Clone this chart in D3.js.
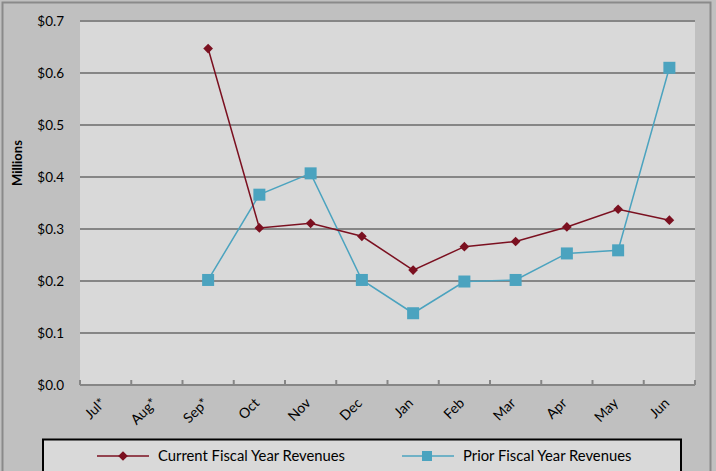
<!DOCTYPE html>
<html><head><meta charset="utf-8">
<script src="https://cdn.jsdelivr.net/npm/d3@7"></script>
<style>body{margin:0;background:#c0c0c0;}svg{display:block;}</style>
</head><body>
<script>
const months = ["Jul*","Aug*","Sep*","Oct","Nov","Dec","Jan","Feb","Mar","Apr","May","Jun"];
const currentFY = [null,null,0.647,0.302,0.311,0.286,0.221,0.266,0.276,0.304,0.338,0.317];
const priorFY = [null,null,0.202,0.366,0.407,0.202,0.138,0.199,0.202,0.253,0.259,0.610];
const yTicks = [0,0.1,0.2,0.3,0.4,0.5,0.6,0.7];
const seriesNames = ["Current Fiscal Year Revenues","Prior Fiscal Year Revenues"];

const W=716,H=471;
const font="Lato, 'Open Sans', sans-serif";
const svg=d3.select("body").append("svg").attr("width",W).attr("height",H);
svg.append("rect").attr("x",0).attr("y",0).attr("width",W).attr("height",H).attr("fill","#c0c0c0");
svg.append("rect").attr("x",2.5).attr("y",2.5).attr("width",708).attr("height",480)
  .attr("fill","none").attr("stroke","#8a8a8a").attr("stroke-width",2);

const L=80,R=695,T=21,B=385;
const x=d3.scaleBand().domain(months).range([L,R]);
const y=d3.scaleLinear().domain([0,0.7]).range([B,T]);

svg.append("rect").attr("x",L).attr("y",T).attr("width",R-L).attr("height",B-T).attr("fill","#d9d9d9");
// gridlines
svg.append("g").selectAll("line").data(yTicks.filter(d=>d>0)).join("line")
  .attr("x1",L).attr("x2",R).attr("y1",d=>y(d)).attr("y2",d=>y(d))
  .attr("stroke","#868686").attr("stroke-width",2);

// y axis labels
const yAxis=d3.axisLeft(y).tickValues(yTicks).tickFormat(d=>"$"+d.toFixed(1)).tickSize(0).tickPadding(16);
const gy=svg.append("g").attr("transform",`translate(${L},0)`).call(yAxis);
gy.select(".domain").remove();
gy.selectAll("text").attr("font-family",font).attr("font-size",13.5).attr("fill","#000");

// x axis
const xAxis=d3.axisBottom(x).tickSize(0);
const gx=svg.append("g").attr("transform",`translate(0,${B})`).call(xAxis);
gx.select(".domain").remove();
gx.selectAll(".tick line").remove();
gx.selectAll("text").attr("font-family",font).attr("font-size",14).attr("fill","#000")
  .attr("text-anchor","end").attr("dy",0).attr("y",0)
  .attr("transform","translate(1,19) rotate(-45)");
svg.append("line").attr("x1",L).attr("x2",R).attr("y1",B).attr("y2",B).attr("stroke","#868686").attr("stroke-width",2);
const edges=months.map((m,i)=>x(m)).concat([R]);
svg.append("g").selectAll("line").data(edges).join("line")
  .attr("x1",d=>d).attr("x2",d=>d).attr("y1",B-5).attr("y2",B)
  .attr("stroke","#868686").attr("stroke-width",2);

// y title
svg.append("text").attr("transform","translate(22,163) rotate(-90)")
  .attr("text-anchor","middle").attr("font-family",font).attr("font-weight","bold").attr("font-size",13).text("Millions");

const cx=m=>x(m)+x.bandwidth()/2;
const line=d3.line().defined(d=>d.v!=null).x(d=>cx(d.m)).y(d=>y(d.v));
const cur=months.map((m,i)=>({m,v:currentFY[i]}));
const pri=months.map((m,i)=>({m,v:priorFY[i]}));
const cCol="#7b1020", pCol="#4ba3bf";

svg.append("path").datum(pri).attr("d",line).attr("fill","none").attr("stroke",pCol).attr("stroke-width",1.5);
svg.append("g").selectAll("rect").data(pri.filter(d=>d.v!=null)).join("rect")
  .attr("x",d=>cx(d.m)-6).attr("y",d=>y(d.v)-6).attr("width",12).attr("height",12).attr("fill",pCol);
svg.append("path").datum(cur).attr("d",line).attr("fill","none").attr("stroke",cCol).attr("stroke-width",1.5);
const diamond=d3.symbol().type(d3.symbolDiamond2).size(60);
svg.append("g").selectAll("path").data(cur.filter(d=>d.v!=null)).join("path")
  .attr("d",diamond).attr("transform",d=>`translate(${cx(d.m)},${y(d.v)})`).attr("fill",cCol);

// legend
svg.append("rect").attr("x",43).attr("y",439.5).attr("width",638).attr("height",60)
  .attr("fill","#d9d9d9").attr("stroke","#000").attr("stroke-width",2);
const lg=[{x:97,c:cCol,t:seriesNames[0],sym:"d"},{x:402,c:pCol,t:seriesNames[1],sym:"s"}];
lg.forEach(l=>{
  const ly=456;
  svg.append("line").attr("x1",l.x).attr("x2",l.x+52).attr("y1",ly).attr("y2",ly).attr("stroke",l.c).attr("stroke-width",1.5);
  if(l.sym==="d") svg.append("path").attr("d",diamond).attr("transform",`translate(${l.x+26},${ly})`).attr("fill",l.c);
  else svg.append("rect").attr("x",l.x+20).attr("y",ly-5).attr("width",10).attr("height",10).attr("fill",l.c);
  svg.append("text").attr("x",l.x+61).attr("y",ly+5).attr("font-family",font).attr("font-size",14.8).text(l.t);
});
</script>
</body></html>
